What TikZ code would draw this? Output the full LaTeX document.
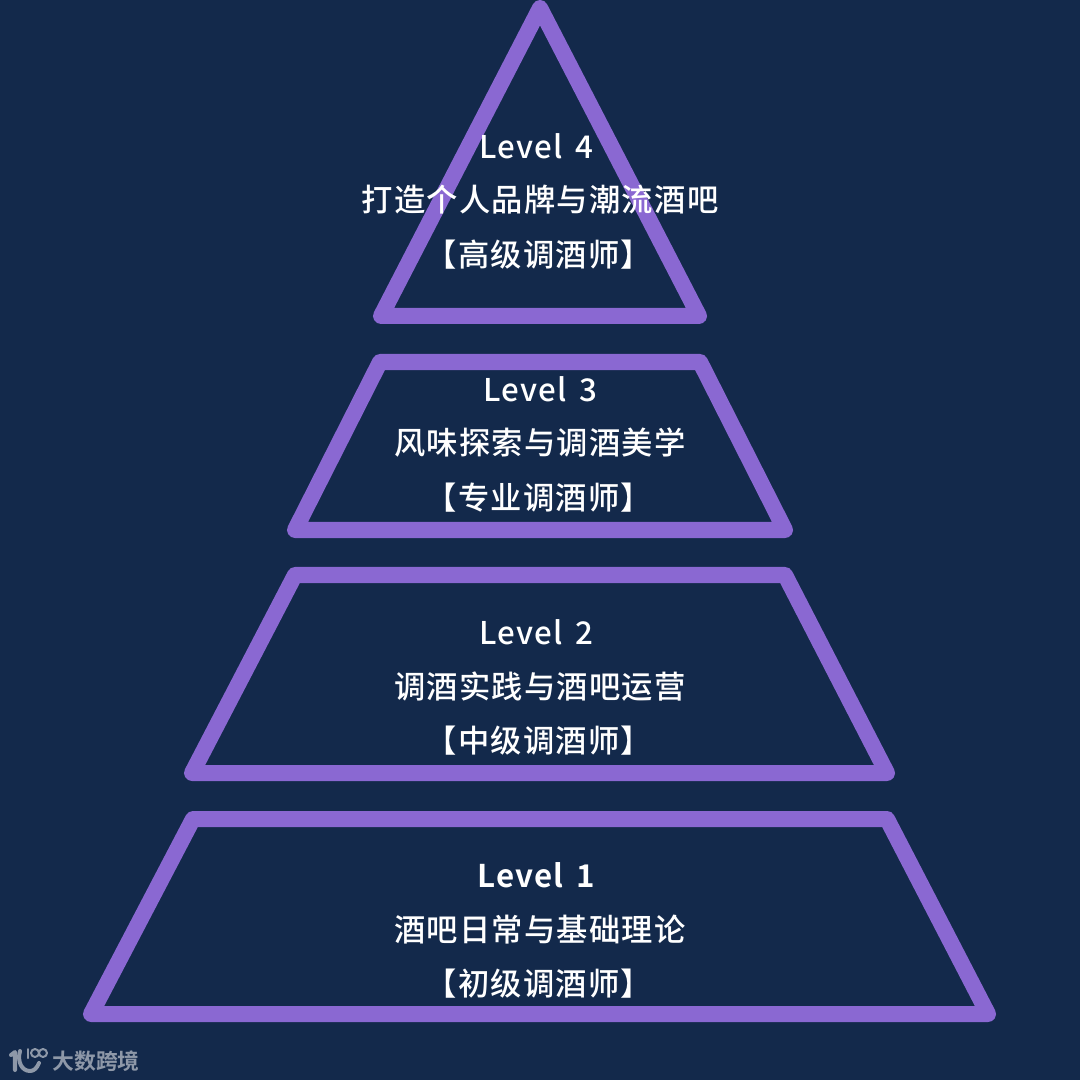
\documentclass[tikz,border=0pt]{standalone}
\usepackage{fontspec}
\setmainfont{Noto Sans CJK SC Medium}[LetterSpace=4, WordSpace=1.5]
\newfontfamily\latinbold{Noto Sans CJK SC Bold}[LetterSpace=4, WordSpace=1.5]
\newfontfamily\markfont{Noto Sans CJK SC Bold}
\definecolor{bgblue}{HTML}{13294B}
\definecolor{tierpurple}{HTML}{8A68D2}
\definecolor{markgray}{HTML}{8E98A8}

\begin{document}
\begin{tikzpicture}[x = .01cm, y = -.01cm, line join = round, line cap = round]
  \tikzset{
    tier/.style = {draw = tierpurple, line width = .16cm},
    caption/.style = {text = white, inner sep = 0pt, font = \fontsize{8.9}{11}\selectfont},
    markline/.style = {draw = markgray, line width = .04cm}
  }

  \fill[bgblue] (0, 0) rectangle (1080, 1080);
  \useasboundingbox (0, 0) rectangle (1080, 1080);

  % tier corners
  \coordinate (T4a) at (540, 8);
  \coordinate (T4b) at (699, 316);
  \coordinate (T4c) at (381, 316);

  \coordinate (T3a) at (380, 362);
  \coordinate (T3b) at (700, 362);
  \coordinate (T3c) at (785, 530);
  \coordinate (T3d) at (295, 530);

  \coordinate (T2a) at (295, 575);
  \coordinate (T2b) at (785, 575);
  \coordinate (T2c) at (887, 773);
  \coordinate (T2d) at (192, 773);

  \coordinate (T1a) at (193, 819);
  \coordinate (T1b) at (887, 819);
  \coordinate (T1c) at (988, 1014);
  \coordinate (T1d) at (91, 1014);

  \draw[tier] (T4a) -- (T4b) -- (T4c) -- cycle;
  \draw[tier] (T3a) -- (T3b) -- (T3c) -- (T3d) -- cycle;
  \draw[tier] (T2a) -- (T2b) -- (T2c) -- (T2d) -- cycle;
  \draw[tier] (T1a) -- (T1b) -- (T1c) -- (T1d) -- cycle;

  \node[caption] (L4a) at (536, 146) {Level 4};
  \node[caption] (L4b) at (540, 200) {打造个人品牌与潮流酒吧};
  \node[caption] (L4c) at (539, 255) {【高级调酒师】};

  \node[caption] (L3a) at (540, 389) {Level 3};
  \node[caption] (L3b) at (540, 443) {风味探索与调酒美学};
  \node[caption] (L3c) at (539, 498) {【专业调酒师】};

  \node[caption] (L2a) at (536, 632) {Level 2};
  \node[caption] (L2b) at (540, 687) {调酒实践与酒吧运营};
  \node[caption] (L2c) at (539, 741) {【中级调酒师】};

  \node[caption, font = \fontsize{8.9}{11}\latinbold] (L1a) at (536, 875) {Level 1};
  \node[caption] (L1b) at (540, 930) {酒吧日常与基础理论};
  \node[caption] (L1c) at (539, 984) {【初级调酒师】};

  % watermark
  \draw[markline] (11, 1055) -- (15, 1052) -- (15, 1070);
  \draw[markline] (20, 1051) .. controls (17, 1062) and (22, 1071) .. (30, 1071) .. controls (34, 1071) and (37, 1068) .. (39, 1063);
  \draw[markline, line width = .02cm] (28, 1049) -- (28, 1058);
  \draw[markline, line width = .02cm] (35, 1053) circle[radius = 4];
  \draw[markline, line width = .02cm] (43, 1053) circle[radius = 4];
  \node[text = markgray, inner sep = 0pt, font = \fontsize{6.2}{7}\markfont] (wm) at (96, 1061) {大数跨境};
\end{tikzpicture}
\end{document}
